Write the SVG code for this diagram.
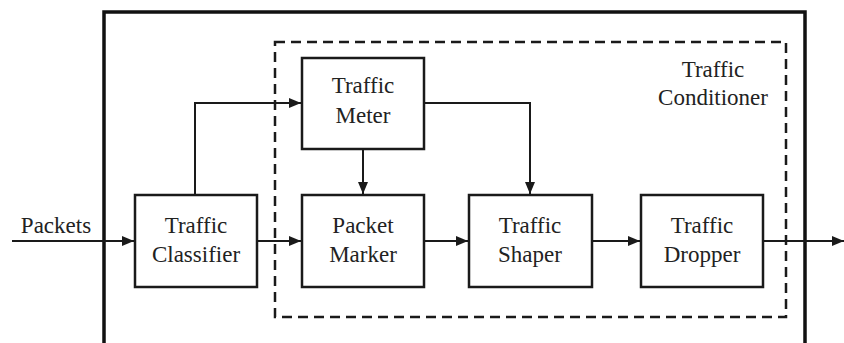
<svg xmlns="http://www.w3.org/2000/svg" width="844" height="343" viewBox="0 0 844 343">
<style>
.box{fill:#fff;stroke:#1a1a1a;stroke-width:2.5}
.t{font-family:"Liberation Serif",serif;font-size:23px;fill:#222;text-anchor:middle}
.c{fill:none;stroke:#1a1a1a;stroke-width:2}
</style>
<defs>
<marker id="a" viewBox="0 0 12 10" refX="12" refY="5" markerWidth="12" markerHeight="10" markerUnits="userSpaceOnUse" orient="auto">
<path d="M0,0 L12,5 L0,10 z" fill="#1a1a1a"/>
</marker>
</defs>
<rect width="844" height="343" fill="#fff"/>
<path d="M104,350 V12 H805 V350" fill="none" stroke="#111" stroke-width="3.5"/>
<rect id="conditioner" x="275" y="42" width="511" height="275" fill="none" stroke="#1a1a1a" stroke-width="2.5" stroke-dasharray="10,6"/>
<text class="t" x="713" y="77">Traffic</text>
<text class="t" x="713" y="105">Conditioner</text>
<g id="connectors">
<line class="c" x1="12" y1="241" x2="134" y2="241" marker-end="url(#a)"/>
<text class="t" x="56" y="233">Packets</text>
<line class="c" x1="257" y1="241" x2="301" y2="241" marker-end="url(#a)"/>
<line class="c" x1="424" y1="241" x2="468" y2="241" marker-end="url(#a)"/>
<line class="c" x1="592" y1="241" x2="640" y2="241" marker-end="url(#a)"/>
<line class="c" x1="763" y1="241" x2="844" y2="241" marker-end="url(#a)"/>
<polyline class="c" points="195,195 195,103 301,103" marker-end="url(#a)"/>
<line class="c" x1="363" y1="149" x2="363" y2="194" marker-end="url(#a)"/>
<polyline class="c" points="424,103 530,103 530,194" marker-end="url(#a)"/>
</g>
<g id="meter"><rect class="box" x="302" y="58" width="122" height="91"/><text class="t" x="363" y="93">Traffic</text><text class="t" x="363" y="123">Meter</text></g>
<g id="classifier"><rect class="box" x="135" y="195" width="122" height="92"/><text class="t" x="196" y="233">Traffic</text><text class="t" x="196" y="262">Classifier</text></g>
<g id="marker"><rect class="box" x="302" y="195" width="122" height="92"/><text class="t" x="363" y="233">Packet</text><text class="t" x="363" y="262">Marker</text></g>
<g id="shaper"><rect class="box" x="469" y="195" width="123" height="92"/><text class="t" x="530" y="233">Traffic</text><text class="t" x="530" y="262">Shaper</text></g>
<g id="dropper"><rect class="box" x="641" y="195" width="122" height="92"/><text class="t" x="702" y="233">Traffic</text><text class="t" x="702" y="262">Dropper</text></g>
</svg>
